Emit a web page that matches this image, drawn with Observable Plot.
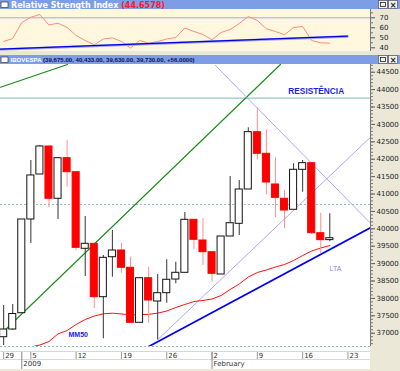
<!DOCTYPE html>
<html><head><meta charset="utf-8">
<script src="https://cdn.jsdelivr.net/npm/d3@7"></script>
<script src="https://cdn.jsdelivr.net/npm/@observablehq/plot@0.6"></script>
<style>
html,body{margin:0;padding:0;}
body{width:400px;height:371px;background:#ebe8d8;position:relative;overflow:hidden;font-family:"DejaVu Sans",sans-serif;}
.abs{position:absolute;}
</style></head><body>
<div class="abs" style="left:0;top:9px;width:370px;height:42px;background:#fff8de"></div>
<div class="abs" style="left:0;top:64px;width:370px;height:305px;background:#ffffff"></div>
<div class="abs" style="left:0;top:351px;width:370px;height:1px;background:#d8d8d8"></div>
<div class="abs" style="left:0;top:359px;width:370px;height:1px;background:#d8d8d8"></div>
<div class="abs" id="rsi" style="left:0;top:9px"></div>
<div class="abs" id="main" style="left:0;top:64px"></div>
<svg class="abs" style="left:0;top:0" width="400" height="9">
  <rect width="400" height="9" fill="#7d9de6"/>
  <rect x="1" y="2" width="7" height="5.5" fill="#fff" stroke="#334" stroke-width="0.7"/>
  <text x="11" y="7.8" font-family="DejaVu Sans" font-weight="bold" font-size="8" fill="#ffffff">Relative Strength Index <tspan fill="#ff1a1a">(44.6578)</tspan></text>
  <rect x="378.5" y="0.5" width="9" height="8" fill="#f2f1ec" stroke="#556" stroke-width="0.7"/>
  <rect x="380.5" y="2.5" width="5" height="4" fill="none" stroke="#222" stroke-width="0.8"/>
  <rect x="388.5" y="0.5" width="9" height="8" fill="#f2f1ec" stroke="#556" stroke-width="0.7"/>
  <text x="393" y="7.5" text-anchor="middle" font-family="DejaVu Sans" font-weight="bold" font-size="8" fill="#222">×</text>
</svg>
<svg class="abs" style="left:0;top:55px" width="400" height="9">
  <rect width="400" height="9" fill="#7d9de6"/>
  <rect x="1" y="2" width="7" height="5.5" fill="#fff" stroke="#334" stroke-width="0.7"/>
  <text x="10.5" y="7.3" font-family="Liberation Sans" font-weight="bold" font-size="6.1" fill="#121250"><tspan fill="#ffffff">IBOVESPA</tspan> (39,675.00, 40,433.00, 39,630.00, 39,730.00, +56.0000)</text>
  <rect x="378.5" y="0.5" width="9" height="8" fill="#f2f1ec" stroke="#556" stroke-width="0.7"/>
  <rect x="380.5" y="2.5" width="5" height="4" fill="none" stroke="#222" stroke-width="0.8"/>
  <rect x="388.5" y="0.5" width="9" height="8" fill="#f2f1ec" stroke="#556" stroke-width="0.7"/>
  <text x="393" y="7.5" text-anchor="middle" font-family="DejaVu Sans" font-weight="bold" font-size="8" fill="#222">×</text>
</svg>
<script>
// ---- data (trading days, Dec 29 2008 .. Feb 19 2009) ----
const days = ["2008-12-29","2008-12-30","2009-01-02","2009-01-05","2009-01-06","2009-01-07","2009-01-08","2009-01-09",
  "2009-01-12","2009-01-13","2009-01-14","2009-01-15","2009-01-16","2009-01-19","2009-01-20","2009-01-21","2009-01-22","2009-01-23",
  "2009-01-26","2009-01-27","2009-01-28","2009-01-29","2009-01-30","2009-02-02","2009-02-03","2009-02-04","2009-02-05","2009-02-06",
  "2009-02-09","2009-02-10","2009-02-11","2009-02-12","2009-02-13","2009-02-16","2009-02-17","2009-02-18","2009-02-19"];
const open  = [36885,37106,37575,40268,41561,42366,40863,42030,41627,39426,39569,38035,39184,39377,38880,37299,38581,37911,38150,38543,38736,40259,39664,39328,38687,39779,40144,41130,42777,42156,41274,40863,40547,41696,41886,39874,39675];
const high  = [37796,37825,40268,41964,42395,42366,42030,42538,41627,40354,39569,39233,39952,39578,39184,38581,38897,38687,39110,39040,40469,40259,40288,39328,39779,41504,41389,42903,43478,42846,42041,41101,41869,41963,41886,40449,40433];
const low   = [36646,37080,37575,39578,41561,40613,40268,41196,39377,38630,37710,36839,38609,38724,37299,37299,37287,36810,37862,38420,38736,39397,38946,38466,38687,39779,39808,41130,41983,40978,40317,40000,40547,41052,39837,39282,39630];
const close = [37106,37552,40268,41533,42366,40863,42030,41627,39454,39569,38035,39167,39377,38880,37299,38581,37940,38150,38535,38736,40259,39684,39328,38707,39779,40161,41130,42777,42156,41331,40891,40526,41696,41886,39874,39674,39730];
const mm50  = [null,36388,36517,36603,36661,36761,36980,37078,37250,37394,37494,37558,37575,37552,37529,37529,37543,37575,37638,37739,37825,37911,37940,37983,38083,38256,38414,38615,38745,38816,38903,38974,39089,39233,39362,39449,39520];
const rsi   = [46.3,49.3,65.3,70.6,73.3,62.8,64.6,60.3,52.3,47.3,43.0,48.8,50.0,46.3,39.8,47.3,44.6,46.3,48.8,50.3,59.8,56.3,53.3,48.0,55.3,58.3,64.3,71.3,67.3,59.0,56.3,53.0,60.3,61.3,47.3,45.0,44.66];

const priceTicks = [37000,37500,38000,38500,39000,39500,40000,40500,41000,41500,42000,42500,43000,43500,44000,44500];
const rsiTicks = [40,50,60,70];
const rsiMinorTicks = [45,55,65,75];
const dayTickIdx = [0,3,8,13,18,23,28,33,38];
const dayTickLabels = ["29","5","12","19","26","2","9","16","23"];
const monthTickIdx = [2,23];
const monthTickLabels = ["2009","February"];

const resistance = [43754];
const refLevel = [40700];
const rsiLevel = [70];
// trendlines: endpoints as [trading-day index, value]
const greenLine1 = [[-0.35,36963],[30.55,44722]];
const greenLine2 = [[-0.35,44070],[7.04,44722]];
const fanDown = [[23.38,44694],[40.49,40161]];
const fanUp = [[16.98,36810],[40.49,42633]];
const lta = [[15.5,36546],[40.49,40029]];
const rsiTrend = [[-0.35,38.3],[37.95,51.3]];
const notes = [
  {label:"RESISTÊNCIA", i:34.5, v:43961},
  {label:"MM50", i:8.23, v:36963},
  {label:"LTA", i:36.62, v:38845}
];

// ---- build ----
const candles = days.map((d,i)=>({i, date:d, open:open[i], high:high[i], low:low[i], close:close[i]}));
const up = candles.filter(d=>d.close>=d.open);
const down = candles.filter(d=>d.close<d.open);
const ma = mm50.map((v,i)=>({i,v})).filter(d=>d.v!=null);
const rsiData = rsi.map((v,i)=>({i,v}));
const dayMap = new Map(dayTickIdx.map((d,k)=>[d,dayTickLabels[k]]));
const monMap = new Map(monthTickIdx.map((d,k)=>[d,monthTickLabels[k]]));
const xDomain = [-0.35, 40.49];
const yDomain = [36618, 44722];
const hw = 0.39;
const seg = (pts)=>pts.map(p=>({i:p[0],v:p[1]}));

const baseStyle = {background:"transparent", fontFamily:"DejaVu Sans", fontSize:"7px", color:"#222", overflow:"visible"};

const main = Plot.plot({
  width:400, height:305,
  marginLeft:0, marginRight:30, marginTop:0, marginBottom:23,
  style: baseStyle,
  x:{type:"linear", domain:xDomain, axis:null},
  y:{type:"linear", domain:yDomain, axis:null},
  marks:[
    Plot.ruleY(refLevel, {stroke:"#8fbdbd", strokeDasharray:"2,2"}),
    Plot.ruleY([yDomain[0]], {stroke:"#8fbdbd", strokeDasharray:"2,2"}),
    Plot.ruleY(resistance, {stroke:"#9cc5c5", strokeWidth:1.2}),
    Plot.line(seg(greenLine1), {x:"i", y:"v", stroke:"#168c16", strokeWidth:1.1, clip:true}),
    Plot.line(seg(greenLine2), {x:"i", y:"v", stroke:"#168c16", strokeWidth:1.1, clip:true}),
    Plot.line(seg(fanDown), {x:"i", y:"v", stroke:"#a8a8ff", strokeWidth:1, clip:true}),
    Plot.line(seg(fanUp), {x:"i", y:"v", stroke:"#a8a8ff", strokeWidth:1, clip:true}),
    Plot.line(ma, {x:"i", y:"v", stroke:"#ff1010", strokeWidth:1, clip:true}),
    Plot.line(seg(lta), {x:"i", y:"v", stroke:"#0000f0", strokeWidth:1.7, clip:true}),
    Plot.ruleX(up, {x:"i", y1:"low", y2:"high", stroke:"#333", strokeWidth:1}),
    Plot.ruleX(down, {x:"i", y1:"low", y2:"high", stroke:"#ff8e8e", strokeWidth:1}),
    Plot.rect(up, {x1:d=>d.i-hw, x2:d=>d.i+hw, y1:"open", y2:"close", fill:"white", stroke:"#111", strokeWidth:1}),
    Plot.rect(down, {x1:d=>d.i-hw, x2:d=>d.i+hw, y1:"open", y2:"close", fill:"#ff0000", stroke:"#ff0000", strokeWidth:1}),
    Plot.text(notes.slice(0,1), {x:"i", y:"v", text:"label", fill:"#1e1ee8", fontSize:8.3, fontWeight:"bold", fontFamily:"Liberation Sans"}),
    Plot.text(notes.slice(1,2), {x:"i", y:"v", text:"label", fill:"#2020e8", fontSize:7, fontWeight:"bold", fontFamily:"Liberation Sans"}),
    Plot.text(notes.slice(2,3), {x:"i", y:"v", text:"label", fill:"#8a8ae8", fontSize:7, fontFamily:"Liberation Sans"}),
    Plot.ruleX([xDomain[1]], {stroke:"#777"}),
    Plot.axisY(priceTicks, {anchor:"right", tickSize:4, tickPadding:2, tickFormat:d3.format("d"), stroke:"#555", fill:"#222", label:null}),
    Plot.axisY(d3.range(36700, 44701, 100), {anchor:"right", tickSize:2, fill:"none", stroke:"#777", label:null}),
    Plot.axisX(dayTickIdx, {anchor:"bottom", tickSize:7, dy:6, fill:"none", stroke:"#999", label:null}),
    Plot.axisX(dayTickIdx, {anchor:"bottom", tickSize:0, tickPadding:0, dy:6.5, dx:1.5, textAnchor:"start", tickFormat:d=>dayMap.get(d), fill:"#333", label:null}),
    Plot.axisX(monthTickIdx, {anchor:"bottom", tickSize:17, dy:6, fill:"none", stroke:"#888", label:null}),
    Plot.axisX(monthTickIdx, {anchor:"bottom", tickSize:0, tickPadding:0, dy:15, dx:1.5, textAnchor:"start", tickFormat:d=>monMap.get(d), fill:"#333", label:null})
  ]
});
document.getElementById("main").appendChild(main);

const rsiPlot = Plot.plot({
  width:400, height:42,
  marginLeft:0, marginRight:30, marginTop:0, marginBottom:0,
  style: baseStyle,
  x:{type:"linear", domain:xDomain, axis:null},
  y:{type:"linear", domain:[36.3, 78.3], axis:null},
  marks:[
    Plot.ruleY(rsiLevel, {stroke:"#a4a4f4", strokeWidth:1}),
    Plot.line(rsiData, {x:"i", y:"v", stroke:"#ff8c80", strokeWidth:1, clip:true}),
    Plot.line(seg(rsiTrend), {x:"i", y:"v", stroke:"#a0a0ee", strokeWidth:2.6, clip:true}),
    Plot.line(seg(rsiTrend), {x:"i", y:"v", stroke:"#0000dd", strokeWidth:1.1, dy:-0.4, clip:true}),
    Plot.ruleX([xDomain[1]], {stroke:"#777"}),
    Plot.axisY(rsiTicks, {anchor:"right", tickSize:4, tickPadding:5, stroke:"#555", fill:"#222", label:null}),
    Plot.axisY(rsiMinorTicks, {anchor:"right", tickSize:2, fill:"none", stroke:"#777", label:null})
  ]
});
document.getElementById("rsi").appendChild(rsiPlot);
</script>
</body></html>
